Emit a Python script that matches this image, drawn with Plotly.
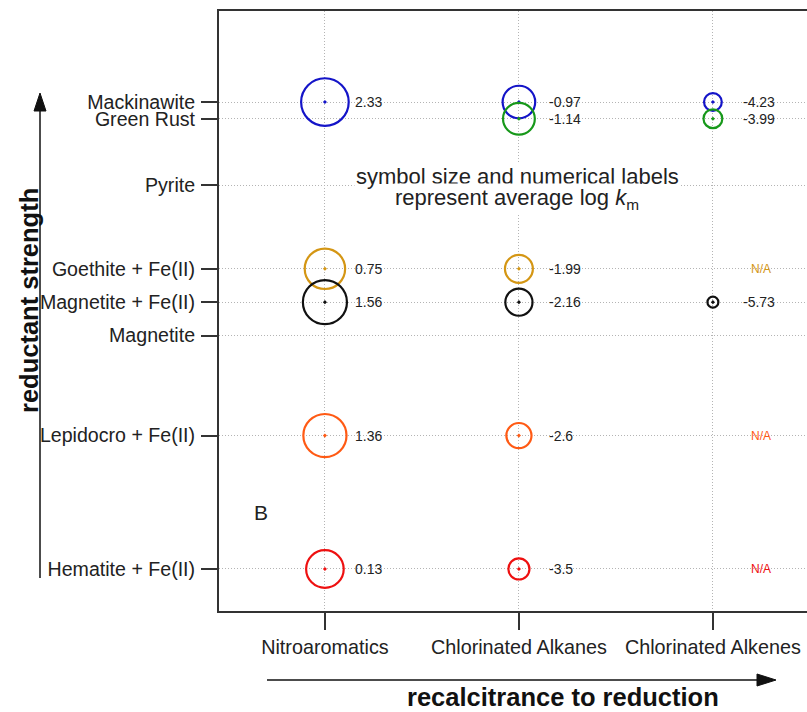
import plotly.graph_objects as go

# ---------------- data ----------------
classes = ["Nitroaromatics", "Chlorinated Alkanes", "Chlorinated Alkenes"]
reductants = ["Mackinawite", "Green Rust", "Pyrite", "Goethite + Fe(II)",
              "Magnetite + Fe(II)", "Magnetite", "Lepidocro + Fe(II)", "Hematite + Fe(II)"]
reductant_strength = [14, 13.5, 11.5, 9, 8, 7, 4, 0]
# average log km per contaminant class (None = no data, "N/A" = not available)
log_km_nitroaromatics = [2.33, None, None, 0.75, 1.56, None, 1.36, 0.13]
log_km_chlorinated_alkanes = [-0.97, -1.14, None, -1.99, -2.16, None, -2.6, -3.5]
log_km_chlorinated_alkenes = [-4.23, -3.99, None, "N/A", -5.73, None, "N/A", "N/A"]

colors = ["#1414c8", "#17981a", "#888888", "#d49614", "#111111", "#888888", "#ff5a14", "#ee1010"]

FONT = "Liberation Sans, Arial, Helvetica, sans-serif"
W, H = 807, 712
ML, MT, MR, MB = 219, 11, 0, 101
PW, PH = W - ML - MR, H - MT - MB


def px(x):
    return (x - ML) / PW


def py(y):
    return (H - MB - y) / PH


def size_of(v):
    # symbol diameter grows linearly with average log km
    return 37 + 4.55 * v


columns = [log_km_nitroaromatics, log_km_chlorinated_alkanes, log_km_chlorinated_alkenes]

fig = go.Figure()
annotations = []
for i, name in enumerate(reductants):
    xs, ys, sz = [], [], []
    for j, col in enumerate(columns):
        v = col[i]
        if v is None:
            continue
        if v == "N/A":
            annotations.append(dict(x=j + 0.247, y=reductant_strength[i], xref="x", yref="y",
                                    text="N/A", showarrow=False, xanchor="center", yanchor="middle",
                                    font=dict(family=FONT, size=12, color=colors[i])))
            continue
        xs.append(j)
        ys.append(reductant_strength[i])
        sz.append(size_of(v))
        annotations.append(dict(x=j + 0.145, y=reductant_strength[i], xref="x", yref="y",
                                text=str(v), showarrow=False, xanchor="left", yanchor="middle",
                                font=dict(family=FONT, size=14, color="#222222")))
    if xs:
        fig.add_trace(go.Scatter(x=xs, y=ys, mode="markers", name=name, showlegend=False,
                                 marker=dict(symbol="circle-open-dot", size=sz, color=colors[i],
                                             opacity=1,
                                             line=dict(width=2.2, color=colors[i]))))

# explanatory text
annotations.append(dict(x=px(517), y=py(176), xref="paper", yref="paper",
                        text="symbol size and numerical labels", showarrow=False,
                        xanchor="center", yanchor="middle", bgcolor="white",
                        font=dict(family=FONT, size=22, color="#222222")))
annotations.append(dict(x=px(517), y=py(199), xref="paper", yref="paper",
                        text="represent average log <i>k</i><sub>m</sub>", showarrow=False,
                        xanchor="center", yanchor="middle", bgcolor="white",
                        font=dict(family=FONT, size=22, color="#222222")))
annotations.append(dict(x=px(261), y=py(512), xref="paper", yref="paper", text="B",
                        showarrow=False, xanchor="center", yanchor="middle",
                        font=dict(family=FONT, size=21, color="#222222")))
# axis titles
annotations.append(dict(x=px(29), y=py(300), xref="paper", yref="paper",
                        text="<b>reductant strength</b>", textangle=-90, showarrow=False,
                        xanchor="center", yanchor="middle",
                        font=dict(family=FONT, size=25.5, color="#111111")))
annotations.append(dict(x=px(563), y=py(697), xref="paper", yref="paper",
                        text="<b>recalcitrance to reduction</b>", showarrow=False,
                        xanchor="center", yanchor="middle",
                        font=dict(family=FONT, size=25.5, color="#111111")))

shapes = [
    dict(type="line", xref="paper", yref="paper", x0=px(40), x1=px(40), y0=py(578), y1=py(108),
         line=dict(color="#111111", width=1.5)),
    dict(type="path", xref="paper", yref="paper",
         path=f"M {px(40)},{py(93)} L {px(34)},{py(111)} L {px(46)},{py(111)} Z",
         fillcolor="#111111", line=dict(color="#111111", width=1)),
    dict(type="line", xref="paper", yref="paper", x0=px(267), x1=px(760), y0=py(680), y1=py(680),
         line=dict(color="#111111", width=1.5)),
    dict(type="path", xref="paper", yref="paper",
         path=f"M {px(776)},{py(680)} L {px(757)},{py(674)} L {px(757)},{py(686)} Z",
         fillcolor="#111111", line=dict(color="#111111", width=1)),
]

fig.update_layout(
    width=W, height=H,
    margin=dict(l=ML, r=MR, t=MT, b=MB, pad=0),
    paper_bgcolor="white", plot_bgcolor="white",
    font=dict(family=FONT, color="#222222"),
    annotations=annotations, shapes=shapes,
    xaxis=dict(range=[-0.546, 2.485], tickvals=[0, 1, 2], ticktext=classes,
               showgrid=True, gridcolor="#b4b4b4", griddash="1px,2px", gridwidth=1,
               zeroline=False, showline=True, linecolor="#333333", linewidth=2, mirror=True,
               ticks="outside", ticklen=17, tickwidth=2, tickcolor="#333333",
               tickfont=dict(family=FONT, size=19.8, color="#222222"), ticklabelstandoff=0),
    yaxis=dict(range=[-1.26, 16.73], tickvals=reductant_strength, ticktext=reductants,
               showgrid=True, gridcolor="#b4b4b4", griddash="1px,2px", gridwidth=1,
               zeroline=False, showline=True, linecolor="#333333", linewidth=2, mirror=False,
               ticks="outside", ticklen=16, tickwidth=2, tickcolor="#333333",
               tickfont=dict(family=FONT, size=19.6, color="#222222"), ticklabelstandoff=2),
)

fig.write_html("out.html")
